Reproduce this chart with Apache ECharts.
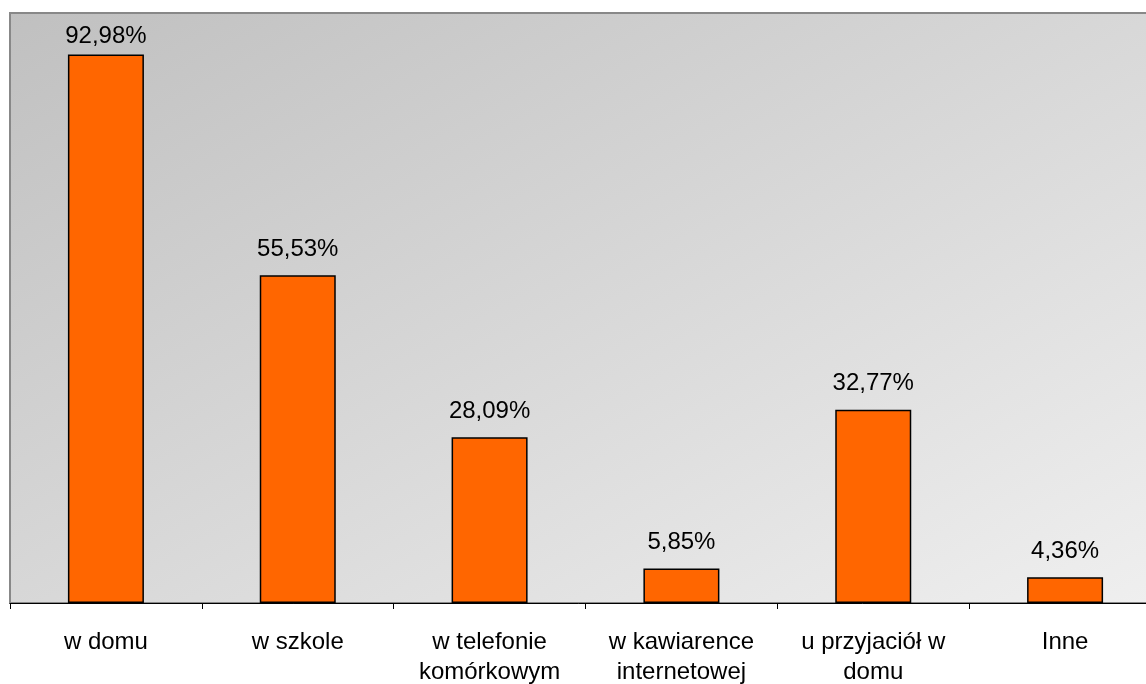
<!DOCTYPE html>
<html><head><meta charset="utf-8">
<script src="https://cdn.jsdelivr.net/npm/echarts@6/dist/echarts.min.js"></script>
<style>html,body{margin:0;padding:0;background:#fff}#c{width:1146px;height:684px}</style>
</head><body><div id="c"></div>
<script>
const categories = ['w domu', 'w szkole', 'w telefonie\nkomórkowym', 'w kawiarence\ninternetowej', 'u przyjaciół w\ndomu', 'Inne'];
const values = [92.98, 55.53, 28.09, 5.85, 32.77, 4.36];
const chart = echarts.init(document.getElementById('c'));
chart.setOption({
  animation: false,
  grid: {
    left: 10, right: -15, top: 13, bottom: 81,
    outerBoundsMode: 'none', containLabel: false,
    show: true,
    borderColor: '#888888', borderWidth: 2,
    backgroundColor: {type: 'linear', x: 0, y: 0, x2: 0.425, y2: 1.575, colorStops: [
      {offset: 0, color: '#c0c0c0'}, {offset: 1, color: '#efefef'}]}
  },
  xAxis: {
    type: 'category', data: categories,
    axisLine: {lineStyle: {color: '#000', width: 1}},
    axisTick: {show: true, length: 6, lineStyle: {color: '#000'}, alignWithLabel: false},
    axisLabel: {color: '#000', fontFamily: 'Liberation Sans, Arial', fontSize: 24, lineHeight: 30, margin: 24, interval: 0}
  },
  yAxis: {type: 'value', min: 0, max: 100, show: false, splitLine: {show: false}},
  series: [{
    type: 'bar', barWidth: 76,
    // labels that would leave the plot area are pulled closer to the bar
    data: values.map(v => v > 90 ? {value: v, label: {distance: 6}} : v),
    itemStyle: {color: '#ff6600', borderColor: '#000', borderWidth: 1.5},
    label: {show: true, position: 'top', distance: 14, color: '#000', fontFamily: 'Liberation Sans, Arial', fontSize: 24,
      formatter: p => p.value.toFixed(2).replace('.', ',') + '%'}
  }]
});
</script></body></html>
